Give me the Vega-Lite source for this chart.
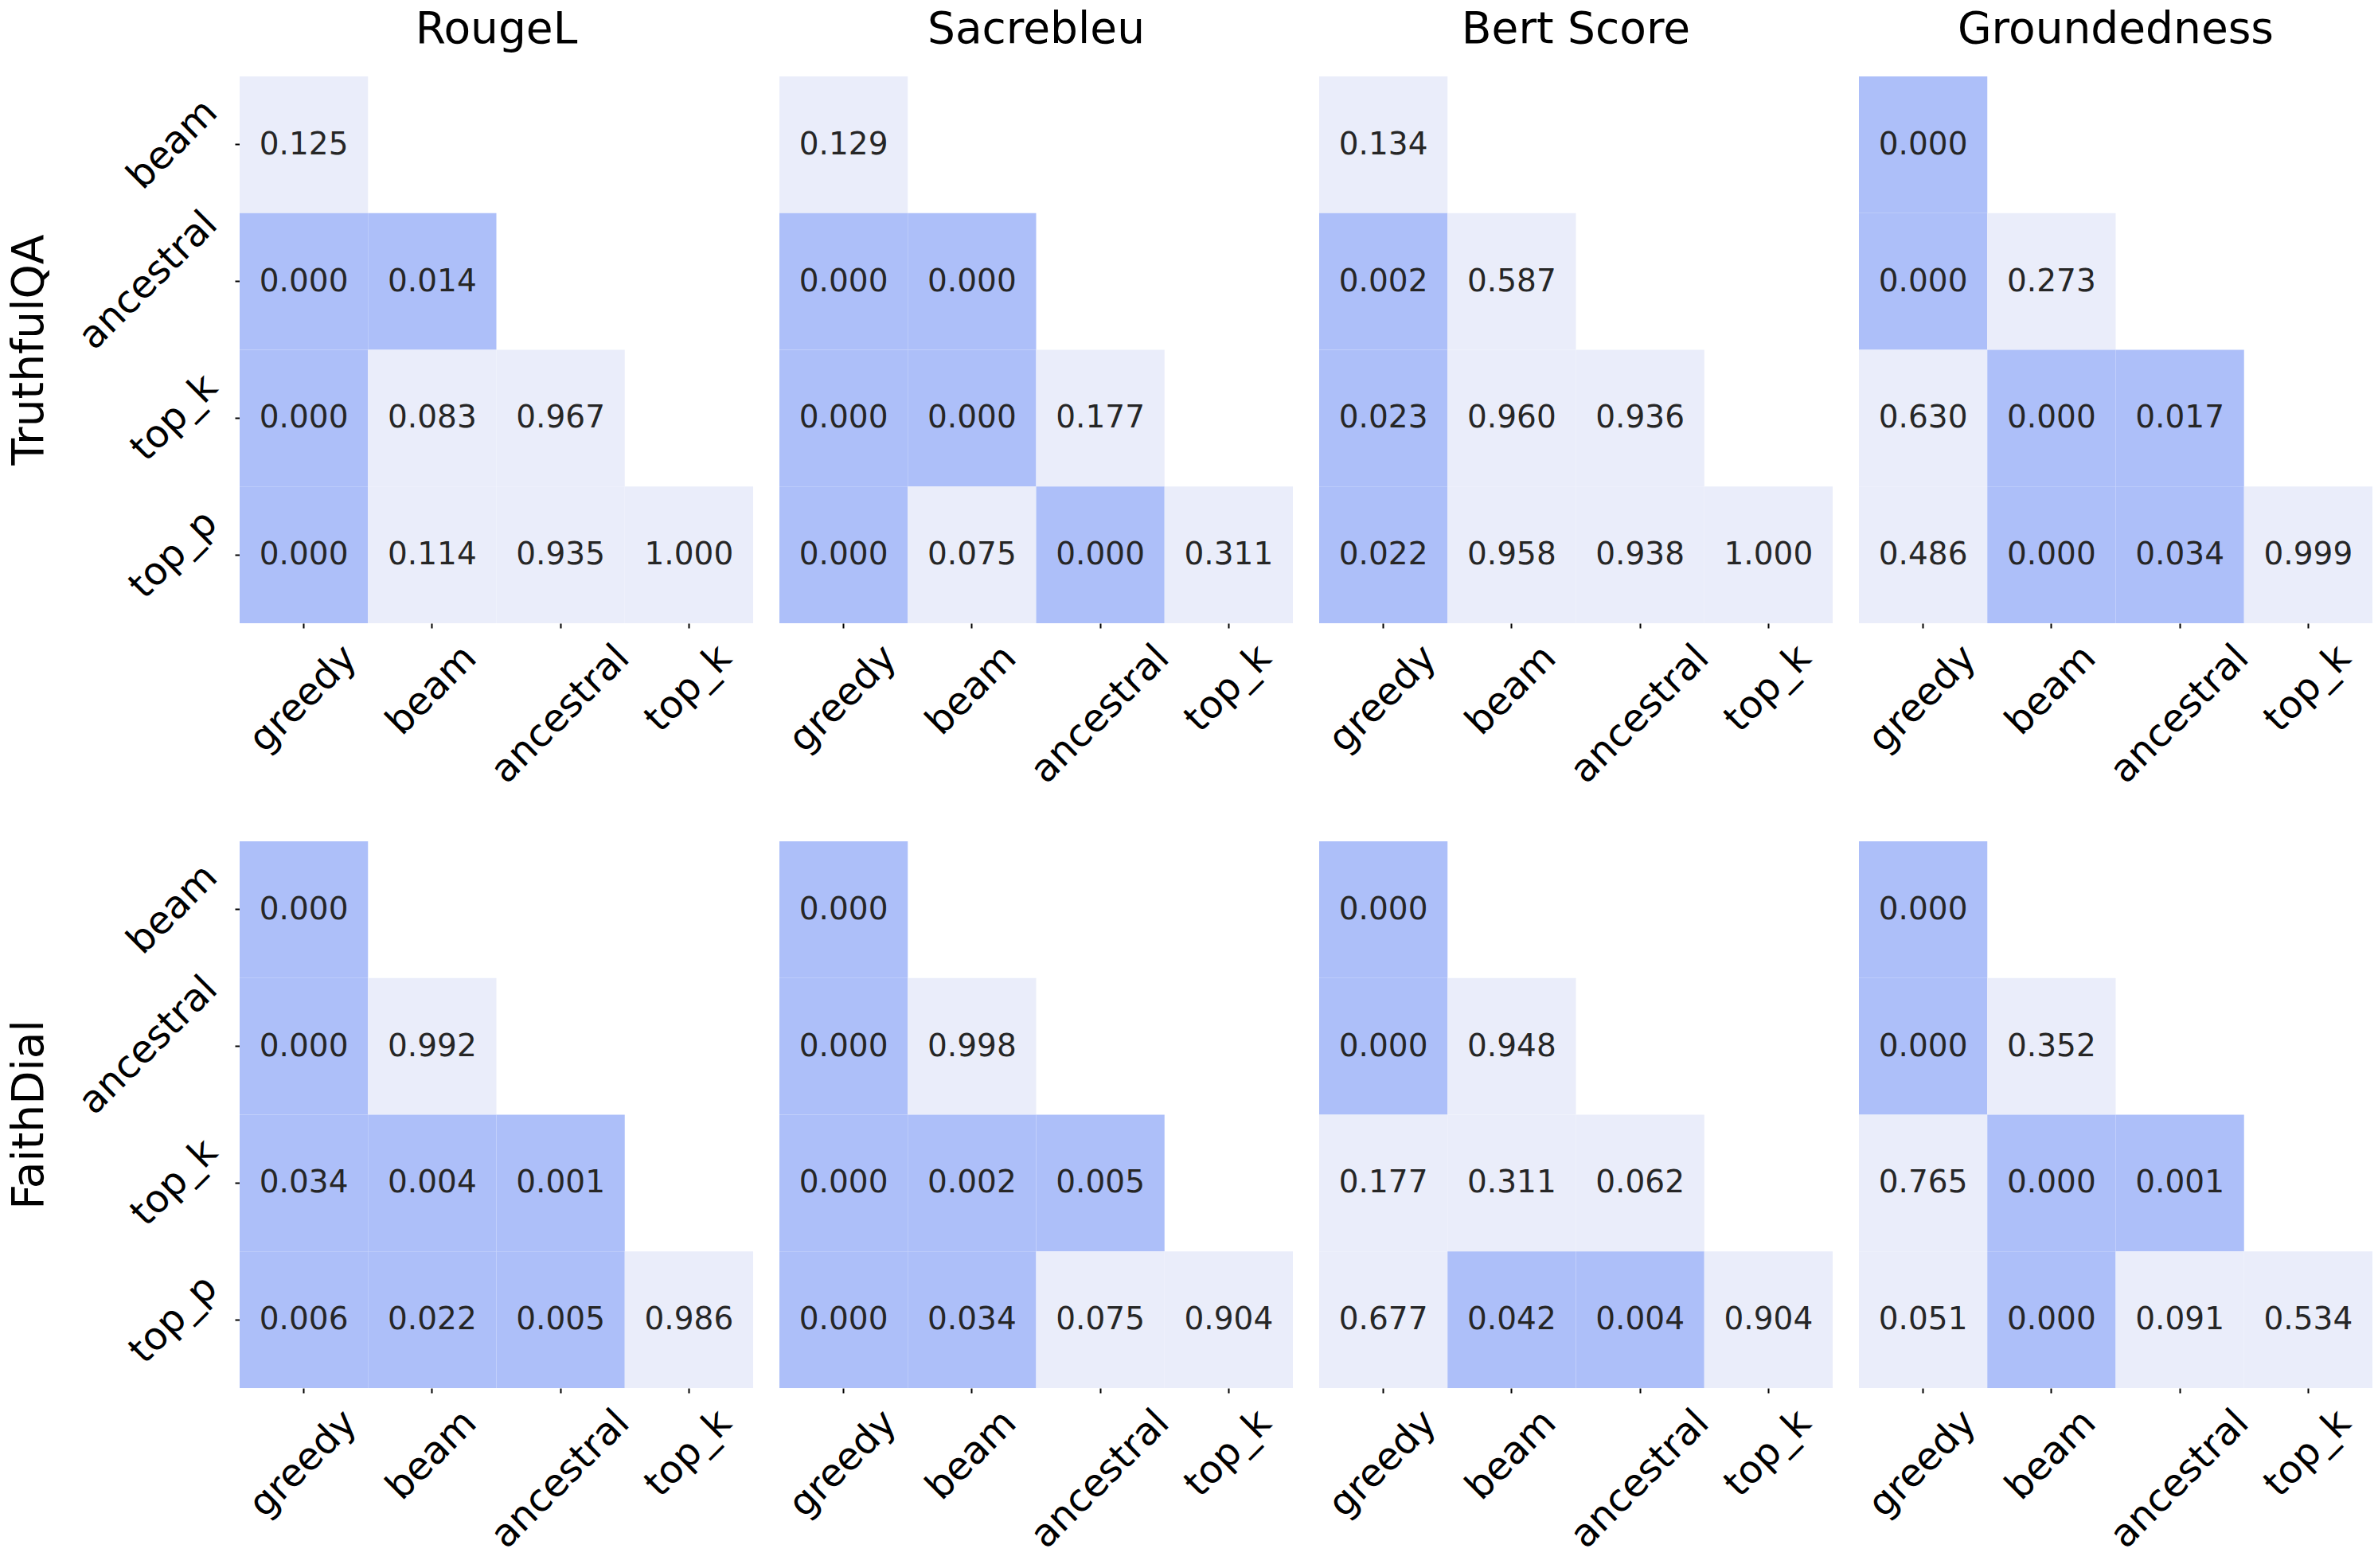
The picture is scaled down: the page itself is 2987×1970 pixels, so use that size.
{
  "$schema": "https://vega.github.io/schema/vega-lite/v6.json",
  "padding": {"left": 10, "top": 10, "right": 0, "bottom": 0},
  "background": "white",
  "data": {"values": [
    {"dataset": "TruthfulQA", "metric": "RougeL", "row": "beam", "col": "greedy", "p": 0.125},
    {"dataset": "TruthfulQA", "metric": "RougeL", "row": "ancestral", "col": "greedy", "p": 0.000},
    {"dataset": "TruthfulQA", "metric": "RougeL", "row": "ancestral", "col": "beam", "p": 0.014},
    {"dataset": "TruthfulQA", "metric": "RougeL", "row": "top_k", "col": "greedy", "p": 0.000},
    {"dataset": "TruthfulQA", "metric": "RougeL", "row": "top_k", "col": "beam", "p": 0.083},
    {"dataset": "TruthfulQA", "metric": "RougeL", "row": "top_k", "col": "ancestral", "p": 0.967},
    {"dataset": "TruthfulQA", "metric": "RougeL", "row": "top_p", "col": "greedy", "p": 0.000},
    {"dataset": "TruthfulQA", "metric": "RougeL", "row": "top_p", "col": "beam", "p": 0.114},
    {"dataset": "TruthfulQA", "metric": "RougeL", "row": "top_p", "col": "ancestral", "p": 0.935},
    {"dataset": "TruthfulQA", "metric": "RougeL", "row": "top_p", "col": "top_k", "p": 1.000},

    {"dataset": "TruthfulQA", "metric": "Sacrebleu", "row": "beam", "col": "greedy", "p": 0.129},
    {"dataset": "TruthfulQA", "metric": "Sacrebleu", "row": "ancestral", "col": "greedy", "p": 0.000},
    {"dataset": "TruthfulQA", "metric": "Sacrebleu", "row": "ancestral", "col": "beam", "p": 0.000},
    {"dataset": "TruthfulQA", "metric": "Sacrebleu", "row": "top_k", "col": "greedy", "p": 0.000},
    {"dataset": "TruthfulQA", "metric": "Sacrebleu", "row": "top_k", "col": "beam", "p": 0.000},
    {"dataset": "TruthfulQA", "metric": "Sacrebleu", "row": "top_k", "col": "ancestral", "p": 0.177},
    {"dataset": "TruthfulQA", "metric": "Sacrebleu", "row": "top_p", "col": "greedy", "p": 0.000},
    {"dataset": "TruthfulQA", "metric": "Sacrebleu", "row": "top_p", "col": "beam", "p": 0.075},
    {"dataset": "TruthfulQA", "metric": "Sacrebleu", "row": "top_p", "col": "ancestral", "p": 0.000},
    {"dataset": "TruthfulQA", "metric": "Sacrebleu", "row": "top_p", "col": "top_k", "p": 0.311},

    {"dataset": "TruthfulQA", "metric": "Bert Score", "row": "beam", "col": "greedy", "p": 0.134},
    {"dataset": "TruthfulQA", "metric": "Bert Score", "row": "ancestral", "col": "greedy", "p": 0.002},
    {"dataset": "TruthfulQA", "metric": "Bert Score", "row": "ancestral", "col": "beam", "p": 0.587},
    {"dataset": "TruthfulQA", "metric": "Bert Score", "row": "top_k", "col": "greedy", "p": 0.023},
    {"dataset": "TruthfulQA", "metric": "Bert Score", "row": "top_k", "col": "beam", "p": 0.960},
    {"dataset": "TruthfulQA", "metric": "Bert Score", "row": "top_k", "col": "ancestral", "p": 0.936},
    {"dataset": "TruthfulQA", "metric": "Bert Score", "row": "top_p", "col": "greedy", "p": 0.022},
    {"dataset": "TruthfulQA", "metric": "Bert Score", "row": "top_p", "col": "beam", "p": 0.958},
    {"dataset": "TruthfulQA", "metric": "Bert Score", "row": "top_p", "col": "ancestral", "p": 0.938},
    {"dataset": "TruthfulQA", "metric": "Bert Score", "row": "top_p", "col": "top_k", "p": 1.000},

    {"dataset": "TruthfulQA", "metric": "Groundedness", "row": "beam", "col": "greedy", "p": 0.000},
    {"dataset": "TruthfulQA", "metric": "Groundedness", "row": "ancestral", "col": "greedy", "p": 0.000},
    {"dataset": "TruthfulQA", "metric": "Groundedness", "row": "ancestral", "col": "beam", "p": 0.273},
    {"dataset": "TruthfulQA", "metric": "Groundedness", "row": "top_k", "col": "greedy", "p": 0.630},
    {"dataset": "TruthfulQA", "metric": "Groundedness", "row": "top_k", "col": "beam", "p": 0.000},
    {"dataset": "TruthfulQA", "metric": "Groundedness", "row": "top_k", "col": "ancestral", "p": 0.017},
    {"dataset": "TruthfulQA", "metric": "Groundedness", "row": "top_p", "col": "greedy", "p": 0.486},
    {"dataset": "TruthfulQA", "metric": "Groundedness", "row": "top_p", "col": "beam", "p": 0.000},
    {"dataset": "TruthfulQA", "metric": "Groundedness", "row": "top_p", "col": "ancestral", "p": 0.034},
    {"dataset": "TruthfulQA", "metric": "Groundedness", "row": "top_p", "col": "top_k", "p": 0.999},

    {"dataset": "FaithDial", "metric": "RougeL", "row": "beam", "col": "greedy", "p": 0.000},
    {"dataset": "FaithDial", "metric": "RougeL", "row": "ancestral", "col": "greedy", "p": 0.000},
    {"dataset": "FaithDial", "metric": "RougeL", "row": "ancestral", "col": "beam", "p": 0.992},
    {"dataset": "FaithDial", "metric": "RougeL", "row": "top_k", "col": "greedy", "p": 0.034},
    {"dataset": "FaithDial", "metric": "RougeL", "row": "top_k", "col": "beam", "p": 0.004},
    {"dataset": "FaithDial", "metric": "RougeL", "row": "top_k", "col": "ancestral", "p": 0.001},
    {"dataset": "FaithDial", "metric": "RougeL", "row": "top_p", "col": "greedy", "p": 0.006},
    {"dataset": "FaithDial", "metric": "RougeL", "row": "top_p", "col": "beam", "p": 0.022},
    {"dataset": "FaithDial", "metric": "RougeL", "row": "top_p", "col": "ancestral", "p": 0.005},
    {"dataset": "FaithDial", "metric": "RougeL", "row": "top_p", "col": "top_k", "p": 0.986},

    {"dataset": "FaithDial", "metric": "Sacrebleu", "row": "beam", "col": "greedy", "p": 0.000},
    {"dataset": "FaithDial", "metric": "Sacrebleu", "row": "ancestral", "col": "greedy", "p": 0.000},
    {"dataset": "FaithDial", "metric": "Sacrebleu", "row": "ancestral", "col": "beam", "p": 0.998},
    {"dataset": "FaithDial", "metric": "Sacrebleu", "row": "top_k", "col": "greedy", "p": 0.000},
    {"dataset": "FaithDial", "metric": "Sacrebleu", "row": "top_k", "col": "beam", "p": 0.002},
    {"dataset": "FaithDial", "metric": "Sacrebleu", "row": "top_k", "col": "ancestral", "p": 0.005},
    {"dataset": "FaithDial", "metric": "Sacrebleu", "row": "top_p", "col": "greedy", "p": 0.000},
    {"dataset": "FaithDial", "metric": "Sacrebleu", "row": "top_p", "col": "beam", "p": 0.034},
    {"dataset": "FaithDial", "metric": "Sacrebleu", "row": "top_p", "col": "ancestral", "p": 0.075},
    {"dataset": "FaithDial", "metric": "Sacrebleu", "row": "top_p", "col": "top_k", "p": 0.904},

    {"dataset": "FaithDial", "metric": "Bert Score", "row": "beam", "col": "greedy", "p": 0.000},
    {"dataset": "FaithDial", "metric": "Bert Score", "row": "ancestral", "col": "greedy", "p": 0.000},
    {"dataset": "FaithDial", "metric": "Bert Score", "row": "ancestral", "col": "beam", "p": 0.948},
    {"dataset": "FaithDial", "metric": "Bert Score", "row": "top_k", "col": "greedy", "p": 0.177},
    {"dataset": "FaithDial", "metric": "Bert Score", "row": "top_k", "col": "beam", "p": 0.311},
    {"dataset": "FaithDial", "metric": "Bert Score", "row": "top_k", "col": "ancestral", "p": 0.062},
    {"dataset": "FaithDial", "metric": "Bert Score", "row": "top_p", "col": "greedy", "p": 0.677},
    {"dataset": "FaithDial", "metric": "Bert Score", "row": "top_p", "col": "beam", "p": 0.042},
    {"dataset": "FaithDial", "metric": "Bert Score", "row": "top_p", "col": "ancestral", "p": 0.004},
    {"dataset": "FaithDial", "metric": "Bert Score", "row": "top_p", "col": "top_k", "p": 0.904},

    {"dataset": "FaithDial", "metric": "Groundedness", "row": "beam", "col": "greedy", "p": 0.000},
    {"dataset": "FaithDial", "metric": "Groundedness", "row": "ancestral", "col": "greedy", "p": 0.000},
    {"dataset": "FaithDial", "metric": "Groundedness", "row": "ancestral", "col": "beam", "p": 0.352},
    {"dataset": "FaithDial", "metric": "Groundedness", "row": "top_k", "col": "greedy", "p": 0.765},
    {"dataset": "FaithDial", "metric": "Groundedness", "row": "top_k", "col": "beam", "p": 0.000},
    {"dataset": "FaithDial", "metric": "Groundedness", "row": "top_k", "col": "ancestral", "p": 0.001},
    {"dataset": "FaithDial", "metric": "Groundedness", "row": "top_p", "col": "greedy", "p": 0.051},
    {"dataset": "FaithDial", "metric": "Groundedness", "row": "top_p", "col": "beam", "p": 0.000},
    {"dataset": "FaithDial", "metric": "Groundedness", "row": "top_p", "col": "ancestral", "p": 0.091},
    {"dataset": "FaithDial", "metric": "Groundedness", "row": "top_p", "col": "top_k", "p": 0.534}
  ]},
  "facet": {
    "row": {"field": "dataset", "type": "nominal", "sort": ["TruthfulQA", "FaithDial"],
      "header": {"title": null, "labelFont": "DejaVu Sans", "labelFontSize": 55, "labelColor": "black", "labelAngle": -90, "labelOrient": "left", "labelPadding": -1}},
    "column": {"field": "metric", "type": "nominal", "sort": ["RougeL", "Sacrebleu", "Bert Score", "Groundedness"],
      "header": {"title": null, "labelFont": "DejaVu Sans", "labelFontSize": 55, "labelColor": "black", "labelPadding": 30}}
  },
  "spacing": {"row": 64, "column": 33},
  "resolve": {"axis": {"x": "independent"}},
  "spec": {
    "width": 645,
    "height": 687,
    "encoding": {
      "x": {"field": "col", "type": "nominal",
        "scale": {"domain": ["greedy", "beam", "ancestral", "top_k"], "paddingInner": 0, "paddingOuter": 0},
        "axis": {"title": null, "labelPadding": 30,
          "labelOffset": {"condition": [
            {"test": "datum.value === 'greedy'", "value": 59},
            {"test": "datum.value === 'beam'", "value": 48},
            {"test": "datum.value === 'ancestral'", "value": 79}
          ], "value": 46}}},
      "y": {"field": "row", "type": "nominal",
        "scale": {"domain": ["beam", "ancestral", "top_k", "top_p"], "paddingInner": 0, "paddingOuter": 0},
        "axis": {"title": null, "labelPadding": 30,
          "labelOffset": {"condition": [
            {"test": "datum.value === 'beam'", "value": -48},
            {"test": "datum.value === 'ancestral'", "value": -79},
            {"test": "datum.value === 'top_k'", "value": -46}
          ], "value": -47}}}
    },
    "layer": [
      {"mark": {"type": "rect"},
       "encoding": {"color": {"field": "p", "type": "quantitative",
         "scale": {"type": "threshold", "domain": [0.05], "range": ["#adbff9", "#eaedfa"]}, "legend": null}}},
      {"mark": {"type": "text", "font": "DejaVu Sans", "fontSize": 39, "color": "#262626"},
       "encoding": {"text": {"field": "p", "type": "quantitative", "format": ".3f"}}}
    ]
  },
  "config": {
    "view": {"stroke": null},
    "axis": {"labelFont": "DejaVu Sans", "labelFontSize": 48, "labelColor": "black", "labelAngle": -45,
      "labelAlign": "right", "labelBaseline": "middle", "domain": false, "grid": false,
      "tickColor": "black", "tickSize": 6, "tickWidth": 2, "labelLimit": 0}
  }
}
